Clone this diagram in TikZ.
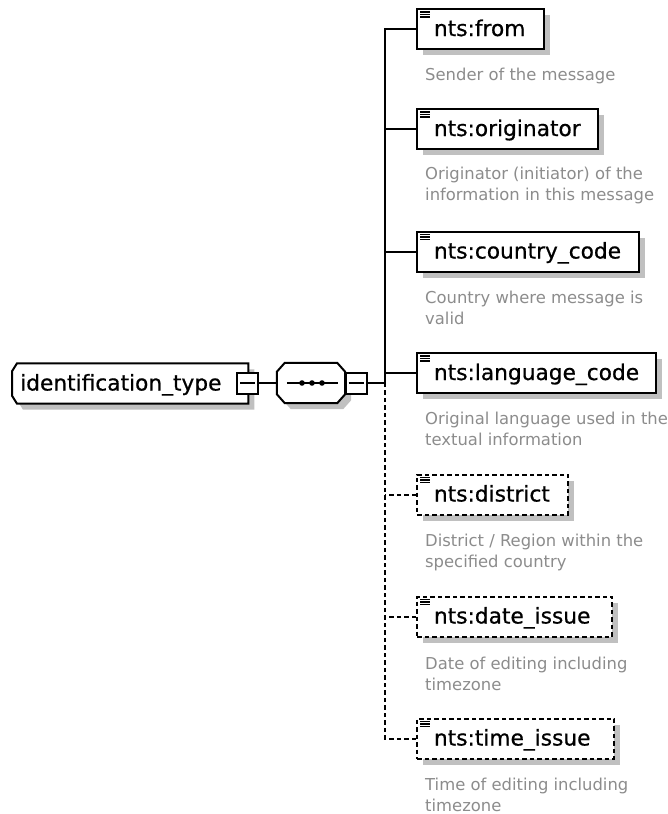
\documentclass[tikz,border=0pt]{standalone}
\usepackage{fontspec}
\setmainfont{DejaVu Sans}
\newfontfamily\namefam{DejaVu Sans}[FakeBold=0.7]
\usetikzlibrary{calc,shadows,backgrounds}
\definecolor{shadowc}{RGB}{192,192,192}
\definecolor{descc}{RGB}{140,140,140}
\newcommand{\namefont}{\namefam\fontsize{21.7}{26}\selectfont}
\newcommand{\descfont}{\fontsize{16.4}{21}\selectfont}
\newcommand{\nmbox}[2]{\makebox[#1][l]{#2}}
\begin{document}
\begin{tikzpicture}[x=1pt,y=-1pt,
  ln/.style={line width=2pt},
  elem/.style={draw, ln, fill=white, inner xsep=17pt, inner ysep=0pt, minimum height=40pt,
    text height=15pt, text depth=1pt, anchor=west, font=\namefont,
    general shadow={fill=shadowc, shadow xshift=6pt, shadow yshift=-6pt}},
  optelem/.style={elem, dash pattern=on 4.5pt off 3pt},
  desc/.style={anchor=base west, inner sep=0pt, align=left, font=\descfont, text=descc},
  minusbox/.style={draw, ln, fill=white, minimum size=21pt, inner sep=0pt},
  conn/.style={ln},
  optconn/.style={ln, dash pattern=on 4.5pt off 3pt},
  iconline/.style={line width=1.1pt}]
\useasboundingbox (0,0) rectangle (667,814);

% root type node
\node[inner xsep=8pt, inner ysep=0pt, minimum height=40pt, text height=15pt, text depth=1pt,
      anchor=west, font=\namefont] (ident) at (12,383.5) {\nmbox{220pt}{identification\_type}};
\def\identpath{($(ident.north west)+(5,0)$) -- (ident.north east) -- (ident.south east)
  -- ($(ident.south west)+(5,0)$) -- ($(ident.south west)+(0,-8)$) -- ($(ident.north west)+(0,8)$) -- cycle}
\begin{pgfonlayer}{background}
  \fill[shadowc, transform canvas={xshift=6pt,yshift=-6pt}] \identpath;
  \fill[white] \identpath;
\end{pgfonlayer}
\draw[ln] \identpath;
\node[minusbox] (identminus) at (247.5,383) {};
\draw[ln] ($(identminus.west)+(4,0)$) -- ($(identminus.east)+(-4,0)$);

% sequence compositor
\node[minimum width=68pt, minimum height=40pt, inner sep=0pt] (seq) at (311,383) {};
\def\seqpath{($(seq.north west)+(8,0)$) -- ($(seq.north east)+(-8,0)$) -- ($(seq.north east)+(0,9)$)
  -- ($(seq.south east)+(0,-9)$) -- ($(seq.south east)+(-8,0)$) -- ($(seq.south west)+(8,0)$)
  -- ($(seq.south west)+(0,-9)$) -- ($(seq.north west)+(0,9)$) -- cycle}
\fill[shadowc, transform canvas={xshift=6pt,yshift=-6pt}] \seqpath;
\draw[ln, fill=white] \seqpath;
\draw[ln] ($(seq.west)+(10,0)$) -- ($(seq.east)+(-7,0)$);
\foreach \dx in {-9,1,11} \fill ($(seq.center)+(\dx,0)$) circle (2.8);
\node[minusbox] (seqminus) at (356,383) {};
\draw[ln] ($(seqminus.west)+(4,0)$) -- ($(seqminus.east)+(-4,0)$);

\draw[conn] (identminus.east) -- (seq.west);
\coordinate (t) at (385,383);
\draw[conn] (seqminus.east) -- (t);

% child elements
\node[elem] (from) at (416,29) {\nmbox{93pt}{nts:from}};
\node[elem] (originator) at (416,129) {\nmbox{147pt}{nts:originator}};
\node[elem] (country) at (416,251.5) {\nmbox{188pt}{nts:country\_code}};
\node[elem] (language) at (416,373) {\nmbox{205pt}{nts:language\_code}};
\node[optelem] (district) at (416,494.5) {\nmbox{117pt}{nts:district}};
\node[optelem] (date) at (416,616.5) {\nmbox{161pt}{nts:date\_issue}};
\node[optelem] (time) at (416,738.5) {\nmbox{163pt}{nts:time\_issue}};

\foreach \n in {from,originator,country,language,district,date,time}{
  \foreach \dy in {4,6.5,9}
    \draw[iconline] ($(\n.north west)+(4,\dy)$) -- ++(10,0);
}

% connectors
\draw[conn] (from.west) -| (t);
\draw[conn] (originator.west) -- (originator.west -| t);
\draw[conn] (country.west) -- (country.west -| t);
\draw[conn] (language.west) -- (language.west -| t);
\draw[optconn] (time.west) -| (t);
\draw[optconn] (district.west) -- (district.west -| t);
\draw[optconn] (date.west) -- (date.west -| t);

% descriptions (base anchor = last line's baseline)
\node[desc] (d1) at (425,80) {Sender of the message};
\node[desc] (d2) at (425,200) {Originator (initiator) of the\\information in this message};
\node[desc] (d3) at (425,324) {Country where message is\\valid};
\node[desc] (d4) at (425,445) {Original language used in the\\textual information};
\node[desc] (d5) at (425,567) {District / Region within the\\specified country};
\node[desc] (d6) at (425,690) {Date of editing including\\timezone};
\node[desc] (d7) at (425,811) {Time of editing including\\timezone};
\end{tikzpicture}
\end{document}
